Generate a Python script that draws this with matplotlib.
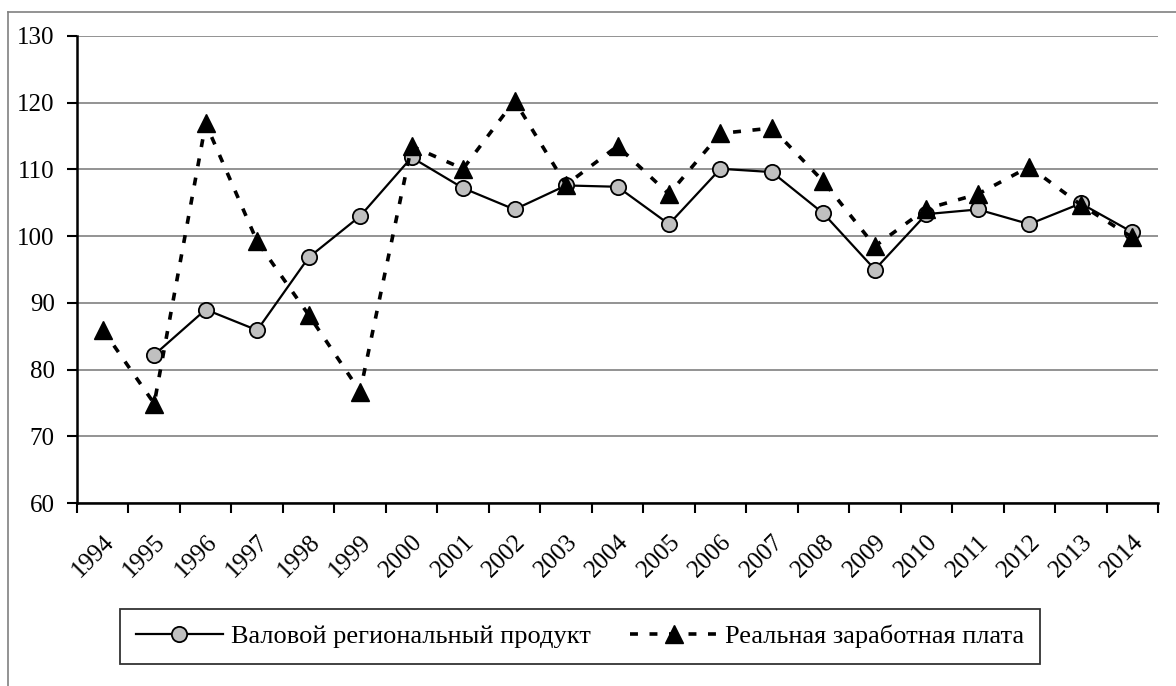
import matplotlib
matplotlib.use('Agg')
import matplotlib.pyplot as plt
from matplotlib.lines import Line2D
from matplotlib.transforms import ScaledTranslation
import numpy as np

# данные: ВРП и реальная заработная плата, % к предыдущему году
years = [str(y) for y in range(1994, 2015)]
vrp = [np.nan, 82.2, 89.0, 85.9, 96.8, 103.0, 111.8, 107.2, 104.0, 107.6, 107.4,
       101.8, 110.1, 109.6, 103.4, 95.0, 103.3, 104.0, 101.8, 104.9, 100.6]
zarplata = [86.0, 74.9, 116.9, 99.2, 88.2, 76.7, 113.5, 110.1, 120.3, 107.7, 113.5,
            106.3, 115.4, 116.2, 108.2, 98.5, 104.1, 106.3, 110.4, 104.7, 99.8]
label_vrp = 'Валовой региональный продукт'
label_zp = 'Реальная заработная плата'
yticks = [60, 70, 80, 90, 100, 110, 120, 130]

plt.rcParams['font.family'] = ['Liberation Serif', 'DejaVu Serif']
plt.rcParams['font.size'] = 18

W, H = 1176, 686
fig = plt.figure(figsize=(W / 100, H / 100), dpi=100)
ax = fig.add_axes([77 / W, 1 - 503 / H, (1158 - 77) / W, (503 - 36) / H])

x = np.arange(len(years)) + 0.5

ax.plot(x, vrp, color='black', lw=1.6, marker='o', ms=11,
        markerfacecolor='#c0c0c0', markeredgecolor='black', markeredgewidth=1.3,
        label=label_vrp, zorder=3)
ax.plot(x, zarplata, color='black', lw=2.6, linestyle=(0, (2.2, 3.2)),
        dash_capstyle='butt', marker='^', ms=13,
        markerfacecolor='black', markeredgecolor='black',
        label=label_zp, zorder=4)

ax.set_xlim(0, len(years))
ax.set_ylim(60, 130)
ax.set_yticks(yticks)
ax.set_xticks(np.arange(len(years) + 1), minor=False)
ax.set_xticklabels([])
ax.set_xticks(x, minor=True)
ax.set_xticklabels(years, minor=True, rotation=45, ha='right',
                   rotation_mode='anchor')
shift = ScaledTranslation(-10 / 100, 0, fig.dpi_scale_trans)
for lab in ax.get_xticklabels(minor=True):
    lab.set_transform(lab.get_transform() + shift)
ax.tick_params(axis='x', which='minor', length=0, pad=20)
ax.tick_params(axis='x', which='major', length=7, width=1.5, direction='out')
ax.tick_params(axis='y', length=7, width=1.5, direction='out', pad=9)

ax.grid(axis='y', color='#808080', lw=1.2)
ax.set_axisbelow(True)
for s in ['top', 'right']:
    ax.spines[s].set_visible(False)
ax.spines['left'].set_linewidth(1.8)
ax.spines['bottom'].set_linewidth(1.8)

leg = fig.legend(loc='center', bbox_to_anchor=(580 / W, 1 - 636.5 / H), ncol=2,
                 frameon=True, fancybox=False, edgecolor='black', fontsize=19,
                 handlelength=3.3, numpoints=1, columnspacing=1.5,
                 borderpad=0.6, handletextpad=0.3)
leg.get_frame().set_linewidth(1.3)

# серая рамка вокруг области диаграммы
fig.add_artist(Line2D([8 / W, 8 / W], [0, 1 - 12 / H], color='#808080', lw=1.2))
fig.add_artist(Line2D([8 / W, 1], [1 - 12 / H, 1 - 12 / H], color='#808080', lw=1.2))

plt.savefig('out.png', dpi=100)
